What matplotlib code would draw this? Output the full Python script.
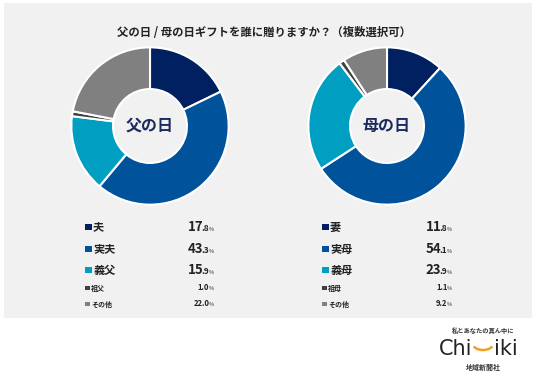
import matplotlib
matplotlib.use("Agg")
from matplotlib import pyplot as plt
from matplotlib.patches import Rectangle, Arc

plt.rcParams['font.family'] = ['Noto Sans CJK JP', 'DejaVu Sans']

W, H = 536, 381

title = '父の日 / 母の日ギフトを誰に贈りますか？（複数選択可）'

father_center = '父の日'
father_labels = ['夫', '実夫', '義父', '祖父', 'その他']
father_values = [17.8, 43.3, 15.9, 1.0, 22.0]

mother_center = '母の日'
mother_labels = ['妻', '実母', '義母', '祖母', 'その他']
mother_values = [11.8, 54.1, 23.9, 1.1, 9.2]

colors = ['#002060', '#00529b', '#009ec0', '#404040', '#808080']
navy = '#1b2a5e'


def fx(x):
    return x / W


def fy(y):
    return 1 - y / H


fig = plt.figure(figsize=(W / 100, H / 100), dpi=100)
fig.patch.set_facecolor('white')
fig.add_artist(Rectangle((fx(4), fy(318)), fx(528), 315 / H, transform=fig.transFigure,
                         facecolor='#f1f1f1', edgecolor='none', zorder=0))

fig.text(fx(264), fy(33), title, ha='center', va='center', fontsize=8.2, fontweight='bold', color='#222222')

renderer = fig.canvas.get_renderer()


def text_width(t):
    return t.get_window_extent(renderer=renderer).width


def draw_value(x_right, y, value, big):
    # right to left: "%", decimals, integer part
    whole, dec = f'{value:.1f}'.split('.')
    if big:
        parts = [(whole, 9.5, 'bold'), ('.' + dec, 6, 'bold'), ('%', 4, 'normal')]
    else:
        parts = [(whole + '.' + dec, 5.5, 'bold'), ('%', 4, 'normal')]
    x = x_right
    for s, size, wt in reversed(parts):
        t = fig.text(fx(x), fy(y), s, ha='right', va='baseline', fontsize=size,
                     fontweight=wt, color='#222222')
        x -= text_width(t) - 0.5
        if s.startswith('.'):
            x += 1.2  # the period carries a wide left bearing


def draw_donut(cx, values, labels, center, sq_x, val_right):
    r = 79
    cy = 126
    ax = fig.add_axes([fx(cx - r - 2), fy(cy + r + 2), (2 * r + 4) / W, (2 * r + 4) / H])
    ax.pie(values, colors=colors, startangle=90, counterclock=False, radius=1,
           wedgeprops=dict(width=0.53, edgecolor='white', linewidth=1.5))
    ax.set_xlim(-1.03, 1.03)
    ax.set_ylim(-1.03, 1.03)
    ax.set_aspect('equal')
    ax.axis('off')
    ax.text(0, 0, center, ha='center', va='center', fontsize=11.5, fontweight='bold', color=navy)

    rows = [227, 249, 270, 288, 304]
    for i, (lab, val) in enumerate(zip(labels, values)):
        y = rows[i]
        big = i < 3
        s = 6.5 if big else 4.5
        fig.add_artist(Rectangle((fx(sq_x), fy(y + s / 2)), s / W, s / H, transform=fig.transFigure,
                                 facecolor=colors[i], edgecolor='none'))
        fig.text(fx(sq_x + s + 1.5), fy(y), lab, ha='left', va='center',
                 fontsize=8 if big else 5, fontweight='bold', color='#222222')
        draw_value(val_right, y + (4 if big else 2.5), val, big)


draw_donut(150, father_values, father_labels, father_center, 85, 214)
draw_donut(387, mother_values, mother_labels, mother_center, 322, 452)

# logo
fig.text(fx(483), fy(330), '私とあなたの真ん中に', ha='center', va='center', fontsize=4.5,
         fontweight='bold', color='#333333')
fig.text(fx(472), fy(349), 'Chi', ha='right', va='center', fontsize=15, color='#222222',
         family='DejaVu Sans')
fig.text(fx(494), fy(349), 'iki', ha='left', va='center', fontsize=15, color='#222222',
         family='DejaVu Sans')
fig.add_artist(Arc((fx(483), fy(344)), 20 / W, 12 / H, theta1=200, theta2=340,
                   transform=fig.transFigure, color='#f0a020', linewidth=1.8))
fig.text(fx(483), fy(367), '地域新聞社', ha='center', va='center', fontsize=5,
         fontweight='bold', color='#333333')

fig.savefig('out.png', dpi=100, facecolor=fig.get_facecolor())
